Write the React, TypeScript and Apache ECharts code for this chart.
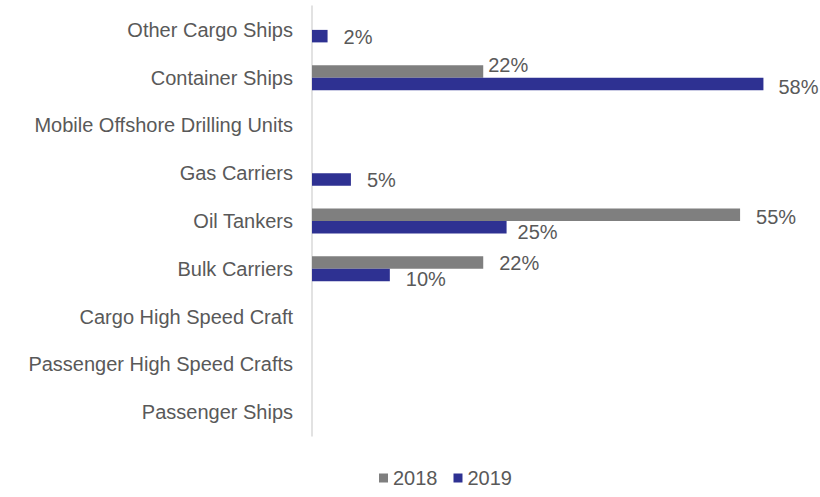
import React, { useEffect, useRef } from "react";
import * as echarts from "echarts";

const categories = [
  "Other Cargo Ships",
  "Container Ships",
  "Mobile Offshore Drilling Units",
  "Gas Carriers",
  "Oil Tankers",
  "Bulk Carriers",
  "Cargo High Speed Craft",
  "Passenger High Speed Crafts",
  "Passenger Ships",
];
const values2018: (number | null)[] = [null, 22, null, null, 55, 22, null, null, null];
const values2019: (number | null)[] = [2, 58, null, 5, 25, 10, null, null, null];
const seriesNames = ["2018", "2019"];

const FONT = "'Liberation Sans', Arial, sans-serif";
const TEXT = "#595959";
const FS = 20;

export default function App() {
  const ref = useRef<HTMLDivElement>(null);
  useEffect(() => {
    if (!ref.current) return;
    const chart = echarts.init(ref.current, undefined, { renderer: "svg" });
    // label placement tweaks (styling only), Excel-like
    const dy2018 = [0, -6, 0, 0, 2, 0, 0, 0, 0];
    const dist2018 = [15, 5, 15, 15, 16, 16, 15, 15, 15];
    const dy2019 = [1, 3, 0, 1, 5, 4, 0, 0, 0];
    const dist2019 = [16, 15, 15, 16, 11, 16, 15, 15, 15];
    const d2018 = values2018.map((v, i) =>
      v == null ? v : { value: v, label: { offset: [0, dy2018[i]], distance: dist2018[i] } }
    );
    const d2019 = values2019.map((v, i) =>
      v == null ? v : { value: v, label: { offset: [0, dy2019[i]], distance: dist2019[i] } }
    );
    const labelBase = {
      show: true,
      position: "right",
      formatter: "{c}%",
      fontSize: FS,
      color: TEXT,
      fontFamily: FONT,
    };
    chart.setOption({
      animation: false,
      textStyle: { fontFamily: FONT },
      legend: {
        data: seriesNames,
        bottom: 4,
        left: 374,
        icon: "rect",
        itemWidth: 9,
        itemHeight: 9,
        itemGap: 16,
        textStyle: { fontSize: FS, color: TEXT, fontFamily: FONT },
      },
      grid: { left: 312, right: 41, top: 6, height: 430, containLabel: false },
      xAxis: { type: "value", min: 0, max: 60, show: false },
      yAxis: {
        type: "category",
        data: categories,
        inverse: true,
        axisLine: { lineStyle: { color: "#d9d9d9", width: 1.5 } },
        axisTick: { show: false },
        axisLabel: { fontSize: FS, color: TEXT, margin: 19, fontFamily: FONT },
      },
      series: [
        {
          name: seriesNames[0],
          type: "bar",
          data: d2018,
          barWidth: 12.5,
          barGap: "0%",
          itemStyle: { color: "#7f7f7f" },
          label: labelBase,
        },
        {
          name: seriesNames[1],
          type: "bar",
          data: d2019,
          barWidth: 12.5,
          barGap: "0%",
          itemStyle: { color: "#2e3192" },
          label: labelBase,
        },
      ],
    });
    return () => chart.dispose();
  }, []);
  return (
    <div
      ref={ref}
      style={{ position: "fixed", left: 0, top: 0, width: 820, height: 497, background: "#fff" }}
    />
  );
}
